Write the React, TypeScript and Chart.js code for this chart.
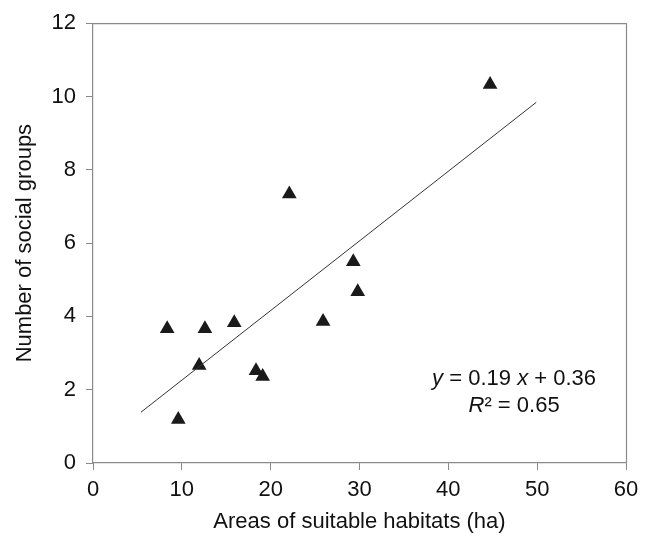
import React, { useEffect, useRef } from "react";
import { Chart, registerables } from "chart.js";

Chart.register(...registerables);

const areas = [8.35, 9.6, 11.95, 12.6, 15.9, 18.35, 19.1, 22.1, 25.9, 29.3, 29.8, 44.7];
const groups = [3.66, 1.19, 2.66, 3.66, 3.83, 2.52, 2.36, 7.34, 3.86, 5.49, 4.67, 10.33];
const slope = 0.19;
const intercept = 0.36;
const fitRange = [5.4, 49.9];
const xTicks = [0, 10, 20, 30, 40, 50, 60];
const yTicks = [0, 2, 4, 6, 8, 10, 12];
const xTitle = "Areas of suitable habitats (ha)";
const yTitle = "Number of social groups";

const FONT = "'Liberation Sans', Arial, sans-serif";

const framePlugin = {
  id: "frame",
  afterDraw(chart: any) {
    const { ctx, chartArea } = chart;
    ctx.save();
    ctx.strokeStyle = "#8a8a8a";
    ctx.lineWidth = 1.2;
    ctx.beginPath();
    ctx.moveTo(chartArea.left, chartArea.top + 0.5);
    ctx.lineTo(chartArea.right + 0.5, chartArea.top + 0.5);
    ctx.lineTo(chartArea.right + 0.5, chartArea.bottom);
    ctx.stroke();
    const xs = chart.scales.x;
    const ys = chart.scales.y;
    const cx = xs.getPixelForValue(47.4);
    const y1 = ys.getPixelForValue(2.29);
    const y2 = ys.getPixelForValue(1.57);
    ctx.fillStyle = "#111";
    ctx.textBaseline = "middle";
    const draw = (parts: [string, boolean][], y: number) => {
      let total = 0;
      const widths = parts.map(([t, it]) => {
        ctx.font = `${it ? "italic " : ""}22px ${FONT}`;
        const w = ctx.measureText(t).width;
        total += w;
        return w;
      });
      let x = cx - total / 2;
      parts.forEach(([t, it], i) => {
        ctx.font = `${it ? "italic " : ""}22px ${FONT}`;
        ctx.textAlign = "left";
        ctx.fillText(t, x, y);
        x += widths[i];
      });
    };
    draw([["y", true], [" = 0.19 ", false], ["x", true], [" + 0.36", false]], y1);
    draw([["R", true], ["\u00B2 = 0.65", false]], y2);
    ctx.restore();
  },
};

export default function App() {
  const ref = useRef<HTMLCanvasElement>(null);
  useEffect(() => {
    document.body.style.margin = "0";
    const ctx = ref.current!.getContext("2d")!;
    const pts = areas.map((a, i) => ({ x: a, y: groups[i] }));
    const line = fitRange.map((x) => ({ x, y: slope * x + intercept }));
    const chart = new Chart(ctx, {
      type: "scatter",
      data: {
        datasets: [
          {
            data: line,
            showLine: true,
            borderColor: "#333",
            borderWidth: 1,
            pointRadius: 0,
            fill: false,
          },
          {
            data: pts,
            pointStyle: "triangle",
            pointRadius: 8.5,
            backgroundColor: "#1a1a1a",
            borderColor: "#1a1a1a",
            borderWidth: 0,
          },
        ],
      },
      options: {
        animation: false,
        responsive: false,
        layout: { padding: { top: 22, right: 22, left: 0, bottom: 0 } },
        plugins: { legend: { display: false }, tooltip: { enabled: false } },
        scales: {
          x: {
            type: "linear",
            min: 0,
            max: 60,
            afterBuildTicks: (s: any) => {
              s.ticks = xTicks.map((v) => ({ value: v }));
            },
            afterFit: (s: any) => {
              s.height = 75;
            },
            grid: { drawOnChartArea: false, tickLength: 7, color: "#8a8a8a" },
            border: { color: "#8a8a8a", width: 1.2 },
            ticks: { color: "#111", font: { family: FONT, size: 22 }, padding: 7 },
            title: {
              display: true,
              text: xTitle,
              color: "#111",
              font: { family: FONT, size: 22 },
              padding: { top: 4, bottom: 3 },
            },
          },
          y: {
            type: "linear",
            min: 0,
            max: 12,
            afterBuildTicks: (s: any) => {
              s.ticks = yTicks.map((v) => ({ value: v }));
            },
            afterFit: (s: any) => {
              s.width = 93;
            },
            grid: { drawOnChartArea: false, tickLength: 7, color: "#8a8a8a" },
            border: { color: "#8a8a8a", width: 1.2 },
            ticks: { color: "#111", font: { family: FONT, size: 22 }, padding: 10 },
            title: {
              display: true,
              text: yTitle,
              color: "#111",
              font: { family: FONT, size: 22 },
              padding: { top: 12, bottom: 6 },
            },
          },
        },
      },
      plugins: [framePlugin],
    });
    return () => chart.destroy();
  }, []);
  return (
    <div style={{ width: 648, height: 538, background: "#fff" }}>
      <canvas ref={ref} width={648} height={538} />
    </div>
  );
}
